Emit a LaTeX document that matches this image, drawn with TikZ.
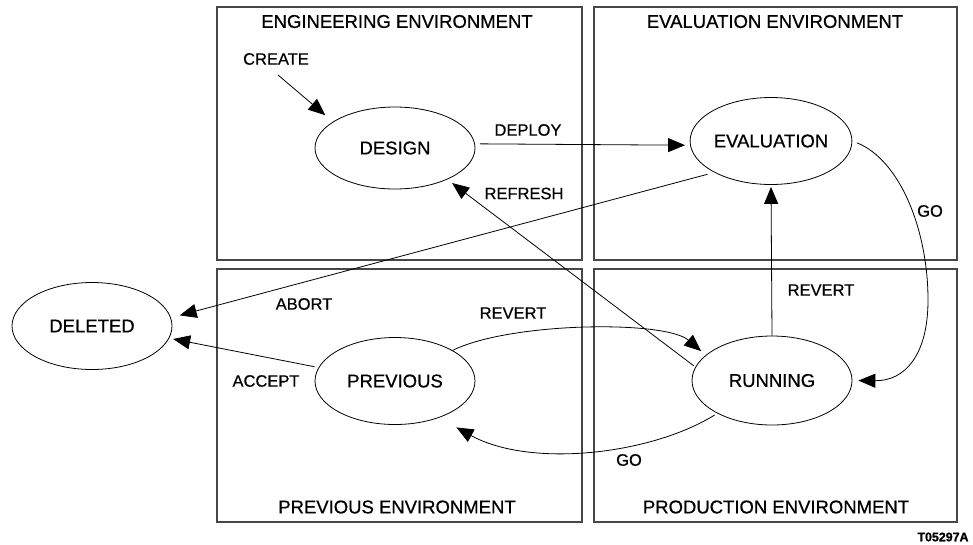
\documentclass[tikz,border=0pt]{standalone}
\usepackage{fontspec}
\setmainfont[FakeBold=0.6]{Liberation Sans}
\newfontfamily\tagfont[FakeBold=1.2]{Liberation Sans Bold}
\usetikzlibrary{shapes.geometric,arrows.meta}
\begin{document}
\begin{tikzpicture}[x=1pt,y=-1pt,
  envbox/.style={draw=black!72, line width=1.2pt},
  state/.style={ellipse, draw, line width=0.8pt, minimum width=160pt, minimum height=87pt, inner sep=0pt, font=\fontsize{18.5}{20}\selectfont},
  envtitle/.style={font=\fontsize{18.5}{20}\selectfont, inner sep=0pt},
  elabel/.style={font=\fontsize{16.5}{18}\selectfont, inner sep=0pt},
  conn/.style={line width=0.8pt, -{Triangle[length=17pt,width=14pt]}},
]
\useasboundingbox (0,0) rectangle (973,544);

% environment boxes
\draw[envbox] (217,7) rectangle (582,260);
\draw[envbox] (594,7) rectangle (957,260);
\draw[envbox] (217,269) rectangle (582,522);
\draw[envbox] (594,269) rectangle (957,522);

% titles
\node[envtitle] (tEng)  at (397,21.5) {ENGINEERING ENVIRONMENT};
\node[envtitle] (tEval) at (775,21.5) {EVALUATION ENVIRONMENT};
\node[envtitle] (tPrev) at (397,507) {PREVIOUS ENVIRONMENT};
\node[envtitle] (tProd) at (776,507) {PRODUCTION ENVIRONMENT};
\node[font=\tagfont\fontsize{12.4}{14}\selectfont, inner sep=0pt] (tag) at (943,537) {T05297A};

% states
\node[state, minimum height=82pt] (design) at (395,148) {DESIGN};
\node[state] (evaluation) at (771,141) {EVALUATION};
\node[state] (deleted) at (92,326) {DELETED};
\node[state] (previous) at (395,381) {PREVIOUS};
\node[state, minimum height=89pt] (running) at (772,380.5) {RUNNING};

% edge labels
\node[elabel] (lCreate)  at (276,59) {CREATE};
\node[elabel] (lDeploy)  at (528,130) {DEPLOY};
\node[elabel] (lRefresh) at (524,193.5) {REFRESH};
\node[elabel] (lGo1)     at (930,211) {GO};
\node[elabel] (lAbort)   at (304,304) {ABORT};
\node[elabel] (lAccept)  at (266,381) {ACCEPT};
\node[elabel] (lRevert1) at (513,313) {REVERT};
\node[elabel] (lRevert2) at (821,290) {REVERT};
\node[elabel] (lGo2)     at (629,460) {GO};

% connectors
\coordinate (cstart) at (278,75);
\draw[conn, shorten >=10pt] (cstart) -- (design.157);
\draw[conn, shorten <=5pt, shorten >=5pt] (design.3) -- (evaluation.183);
\draw[conn, shorten <=7pt, shorten >=9pt] (evaluation.209) -- (deleted.6);
\draw[conn, shorten <=4pt, shorten >=4pt] (previous.170) -- (deleted.-9);
\draw[conn, shorten <=2pt, shorten >=6pt] (running.170) -- (design.-31);
\draw[conn, shorten >=2pt] (running.north) -- (evaluation.south);
\draw[conn, shorten <=5pt, shorten >=6pt] (evaluation.east)
   .. controls (900,160) and (928,230) .. (928,300)
   .. controls (928,355) and (905,381) .. (running.east);
\draw[conn, shorten >=6pt] (previous.28) .. controls (510,322) and (665,320) .. (running.159);
\draw[conn, shorten <=3pt, shorten >=20pt] (running.211) .. controls (650,455) and (530,468) .. (previous.-40);
\end{tikzpicture}
\end{document}
